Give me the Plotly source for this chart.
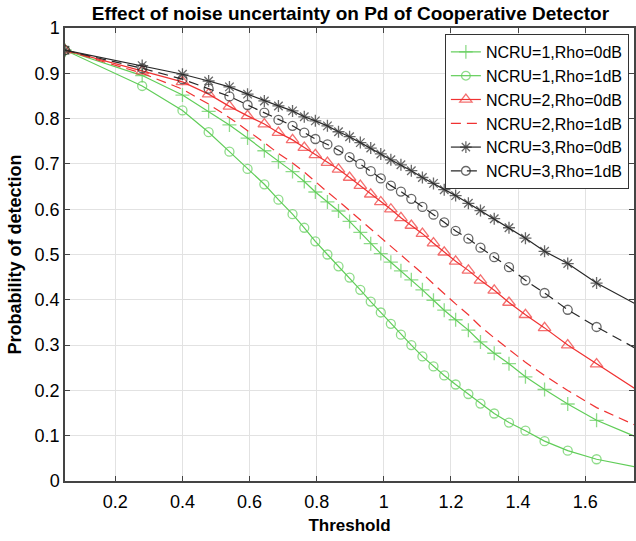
import plotly.graph_objects as go

# Threshold values (x); last value is the right edge of the view
threshold = [0.05, 0.28, 0.40, 0.478, 0.54, 0.594, 0.644, 0.686, 0.728, 0.763, 0.796, 0.832,
             0.865, 0.898, 0.93, 0.961, 0.991, 1.021, 1.051, 1.082, 1.115, 1.148, 1.18, 1.214,
             1.252, 1.288, 1.329, 1.373, 1.422, 1.479, 1.548, 1.634, 1.75]

pd_n1_r0 = [0.951, 0.895, 0.852, 0.816, 0.786, 0.757, 0.729, 0.705, 0.683, 0.661, 0.638, 0.616,
            0.596, 0.573, 0.549, 0.524, 0.502, 0.483, 0.464, 0.444, 0.422, 0.399, 0.377, 0.356,
            0.333, 0.307, 0.282, 0.259, 0.230, 0.202, 0.170, 0.134, 0.098]
pd_n1_r1 = [0.951, 0.872, 0.818, 0.770, 0.727, 0.689, 0.655, 0.621, 0.589, 0.559, 0.529, 0.500,
            0.474, 0.449, 0.422, 0.396, 0.372, 0.347, 0.323, 0.300, 0.275, 0.253, 0.233, 0.213,
            0.192, 0.171, 0.149, 0.129, 0.111, 0.088, 0.067, 0.048, 0.031]
pd_n2_r0 = [0.951, 0.905, 0.881, 0.854, 0.827, 0.806, 0.788, 0.769, 0.753, 0.736, 0.720, 0.703,
            0.688, 0.670, 0.652, 0.633, 0.616, 0.600, 0.581, 0.564, 0.546, 0.525, 0.505, 0.485,
            0.465, 0.443, 0.421, 0.394, 0.367, 0.338, 0.300, 0.258, 0.203]
pd_n2_r1 = [0.951, 0.900, 0.865, 0.832, 0.802, 0.774, 0.747, 0.723, 0.702, 0.682, 0.660, 0.638,
            0.618, 0.597, 0.576, 0.556, 0.537, 0.518, 0.500, 0.480, 0.458, 0.435, 0.413, 0.391,
            0.367, 0.341, 0.316, 0.291, 0.262, 0.233, 0.200, 0.162, 0.123]
pd_n3_r0 = [0.951, 0.917, 0.898, 0.883, 0.870, 0.854, 0.839, 0.828, 0.817, 0.804, 0.795, 0.784,
            0.771, 0.760, 0.747, 0.735, 0.722, 0.709, 0.698, 0.685, 0.670, 0.657, 0.643, 0.630,
            0.613, 0.597, 0.579, 0.559, 0.536, 0.507, 0.480, 0.437, 0.391]
pd_n3_r1 = [0.951, 0.911, 0.887, 0.866, 0.849, 0.830, 0.813, 0.797, 0.784, 0.769, 0.755, 0.743,
            0.730, 0.715, 0.700, 0.684, 0.668, 0.652, 0.639, 0.623, 0.605, 0.588, 0.571, 0.552,
            0.535, 0.515, 0.494, 0.472, 0.443, 0.415, 0.378, 0.340, 0.293]

series_names = ["NCRU=1,Rho=0dB", "NCRU=1,Rho=1dB", "NCRU=2,Rho=0dB",
                "NCRU=2,Rho=1dB", "NCRU=3,Rho=0dB", "NCRU=3,Rho=1dB"]

x_ticks = [0.2, 0.4, 0.6, 0.8, 1.0, 1.2, 1.4, 1.6]
x_ticklabels = ["0.2", "0.4", "0.6", "0.8", "1", "1.2", "1.4", "1.6"]
y_ticks = [0, 0.1, 0.2, 0.3, 0.4, 0.5, 0.6, 0.7, 0.8, 0.9, 1.0]
y_ticklabels = ["0", "0.1", "0.2", "0.3", "0.4", "0.5", "0.6", "0.7", "0.8", "0.9", "1"]

GREEN = "rgb(96,205,88)"
RED = "rgb(240,50,50)"
BLACK = "rgb(40,40,40)"
FONT = "Liberation Sans, Arial, sans-serif"

styles = [
    (pd_n1_r0, GREEN, "solid", "cross-thin-open", 10),
    (pd_n1_r1, GREEN, "solid", "circle-open", 9),
    (pd_n2_r0, RED, "solid", "triangle-up-open", 11),
    (pd_n2_r1, RED, "10px,6px", None, 0),
    (pd_n3_r0, BLACK, "solid", "asterisk-open", 10),
    (pd_n3_r1, BLACK, "10px,6px", "circle-open", 9),
]

fig = go.Figure()
n = len(threshold)
for name, (vals, col, dash, sym, sz) in zip(series_names, styles):
    if sym is None:
        mode = "lines"
        marker = None
    else:
        mode = "lines+markers"
        marker = dict(symbol=sym, size=[sz] * (n - 1) + [0], color=col,
                      line=dict(color=col, width=1.3))
    fig.add_trace(go.Scatter(
        x=threshold, y=vals, name=name, mode=mode,
        line=dict(color=col, width=1.2, dash=dash),
        marker=marker,
    ))

fig.update_layout(
    width=636, height=541,
    margin=dict(l=65, r=0, t=28, b=60),
    paper_bgcolor="white", plot_bgcolor="white",
    font=dict(family=FONT, color="black"),
    title=dict(text="<b>Effect of noise uncertainty on Pd of Cooperative Detector</b>",
               x=0.551, xanchor="center", y=1 - 13 / 541, yanchor="middle",
               font=dict(size=19, family=FONT, color="black")),
    legend=dict(x=0.991, xanchor="right", y=0.9868, yanchor="top",
                bgcolor="white", bordercolor="#333333", borderwidth=1,
                font=dict(size=16, family=FONT, color="black"),
                tracegroupgap=0),
    showlegend=True,
)
fig.update_xaxes(
    range=[0.05, 1.7455], tickvals=x_ticks, ticktext=x_ticklabels,
    showgrid=True, gridcolor="#e2e2e2", gridwidth=1, zeroline=False,
    showline=True, linecolor="#444444", linewidth=1.5, mirror="ticks",
    ticks="inside", ticklen=5, tickcolor="#444444",
    tickfont=dict(size=18, family=FONT, color="black"),
    ticklabelstandoff=4,
    title=dict(text="<b>Threshold</b>", font=dict(size=17, family=FONT, color="black"), standoff=8),
)
fig.update_yaxes(
    range=[0, 1], tickvals=y_ticks, ticktext=y_ticklabels,
    showgrid=True, gridcolor="#e2e2e2", gridwidth=1, zeroline=False,
    showline=True, linecolor="#444444", linewidth=1.5, mirror="ticks",
    ticks="inside", ticklen=5, tickcolor="#444444",
    tickfont=dict(size=18, family=FONT, color="black"),
    title=dict(text="<b>Probability of detection</b>", font=dict(size=18, family=FONT, color="black"), standoff=8),
)
fig.update_layout(
    xaxis=dict(tickprefix="<b>", ticksuffix="</b>"),
    yaxis=dict(tickprefix="<b>", ticksuffix="</b>"),
)

fig.write_html("out.html")
